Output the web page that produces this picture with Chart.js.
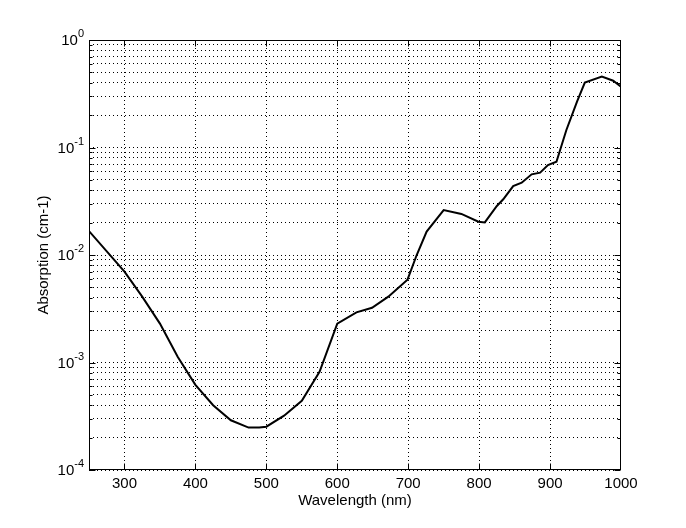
<!DOCTYPE html>
<html>
<head>
<meta charset="utf-8">
<title>Absorption spectrum</title>
<script src="https://cdn.jsdelivr.net/npm/chart.js@4.4.1/dist/chart.umd.min.js"></script>
<style>
  html, body { margin: 0; padding: 0; background: #fff; }
  canvas { display: block; }
</style>
</head>
<body>
<canvas id="absChart" width="686" height="528" style="width:686px;height:528px"></canvas>
<script>
/* ── Absorption spectrum (log scale) ─────────────────── */

// Data
var wavelengths = [250, 300, 325, 350, 375, 400, 425, 450, 475, 490, 500, 525, 550, 575, 600,
                   627, 649, 672, 699, 712, 726, 750, 775, 799, 808, 825, 834, 848, 860, 874,
                   886, 897, 909, 923, 938, 949, 973, 989, 1000];
var absorption  = [0.0167, 0.0070, 0.0041, 0.0023, 0.00113, 0.00062, 0.00040, 0.00029, 0.000248, 0.000248, 0.000253, 0.00032, 0.00044, 0.00082, 0.0023,
                   0.00293, 0.00323, 0.0041, 0.0059, 0.0100, 0.0165, 0.0262, 0.0241, 0.0204, 0.0201, 0.0286, 0.033, 0.0438, 0.0471, 0.0563,
                   0.0583, 0.0687, 0.0738, 0.1455, 0.267, 0.401, 0.456, 0.418, 0.368];

// Axis ticks
var xTicks = [300, 400, 500, 600, 700, 800, 900, 1000];
var xGrid = [300, 400, 500, 600, 700, 800, 900];
var yExponents = [-4, -3, -2, -1, 0];

var FONT = '"Liberation Sans", Arial, Helvetica, sans-serif';

// all 1..9 x 10^n values for the log grid
function logGridValues() {
  var vals = [];
  for (var e = -4; e < 0; e++) {
    for (var m = 1; m <= 9; m++) vals.push(m * Math.pow(10, e));
  }
  vals.push(1);
  return vals;
}

// MATLAB-ish frame: box, inward ticks, tick labels and axis titles
var matlabAxes = {
  id: 'matlabAxes',
  afterDraw: function (chart) {
    var ctx = chart.ctx;
    var a = chart.chartArea;
    var xs = chart.scales.x, ys = chart.scales.y;
    var L = Math.round(a.left) + 0.5, R = Math.round(a.right) - 0.5;
    var T = Math.round(a.top) + 0.5, B = Math.round(a.bottom) - 0.5;

    ctx.save();
    ctx.strokeStyle = '#000';
    ctx.lineWidth = 1;
    ctx.setLineDash([]);
    ctx.strokeRect(L, T, R - L, B - T);

    ctx.beginPath();
    xGrid.forEach(function (v) {
      var px = Math.round(xs.getPixelForValue(v)) + 0.5;
      ctx.moveTo(px, B); ctx.lineTo(px, B - 6);
      ctx.moveTo(px, T); ctx.lineTo(px, T + 6);
    });
    logGridValues().forEach(function (v) {
      var py = Math.round(ys.getPixelForValue(v)) + 0.5;
      var isMajor = Math.abs(Math.log10(v) - Math.round(Math.log10(v))) < 1e-9;
      var len = isMajor ? 6 : 3;
      ctx.moveTo(L, py); ctx.lineTo(L + len, py);
      ctx.moveTo(R, py); ctx.lineTo(R - len, py);
    });
    ctx.stroke();

    ctx.fillStyle = '#000';
    ctx.font = '15px ' + FONT;
    ctx.textAlign = 'center';
    ctx.textBaseline = 'top';
    xTicks.forEach(function (v) {
      ctx.fillText(String(v), xs.getPixelForValue(v), a.bottom + 6);
    });

    // 10^n labels
    yExponents.forEach(function (e) {
      var py = ys.getPixelForValue(Math.pow(10, e));
      var exp = String(e);
      ctx.font = '11px ' + FONT;
      var ew = ctx.measureText(exp).width;
      ctx.textAlign = 'right';
      ctx.textBaseline = 'alphabetic';
      ctx.fillText(exp, a.left - 5, py - 3);
      ctx.font = '15px ' + FONT;
      ctx.textBaseline = 'middle';
      ctx.fillText('10', a.left - 5 - ew, py + 1);
    });

    ctx.font = '15px ' + FONT;
    ctx.textAlign = 'center';
    ctx.textBaseline = 'top';
    ctx.fillText('Wavelength (nm)', (a.left + a.right) / 2, a.bottom + 23);

    ctx.translate(44, (a.top + a.bottom) / 2);
    ctx.rotate(-Math.PI / 2);
    ctx.textBaseline = 'middle';
    ctx.fillText('Absorption (cm-1)', 0, 0);
    ctx.restore();
  }
};

var ctx = document.getElementById('absChart');
new Chart(ctx, {
  type: 'line',
  data: {
    datasets: [{
      data: wavelengths.map(function (w, i) { return { x: w, y: absorption[i] }; }),
      borderColor: '#000',
      borderWidth: 2,
      pointRadius: 0,
      tension: 0,
      fill: false
    }]
  },
  options: {
    responsive: false,
    animation: false,
    devicePixelRatio: 1,
    layout: { padding: { left: 89, right: 65, top: 40, bottom: 58 } },
    plugins: { legend: { display: false }, tooltip: { enabled: false } },
    scales: {
      x: {
        type: 'linear',
        min: 250,
        max: 1000,
        afterBuildTicks: function (scale) {
          scale.ticks = xGrid.map(function (v) { return { value: v }; });
        },
        ticks: { display: false },
        grid: { color: '#000', lineWidth: 1, drawTicks: false },
        border: { display: false, dash: [1, 3] }
      },
      y: {
        type: 'logarithmic',
        min: 1e-4,
        max: 1,
        afterBuildTicks: function (scale) {
          scale.ticks = logGridValues().map(function (v) { return { value: v }; });
        },
        ticks: { display: false },
        grid: { color: '#000', lineWidth: 1, drawTicks: false },
        border: { display: false, dash: [1, 3] }
      }
    }
  },
  plugins: [matlabAxes]
});
</script>
</body>
</html>
